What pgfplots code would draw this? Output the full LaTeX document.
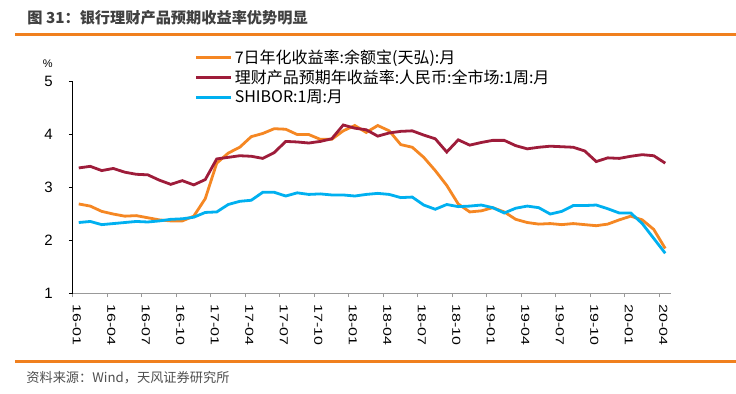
\documentclass[border=0pt]{standalone}
\usepackage{fontspec}
\setmainfont{Liberation Sans}
\newfontfamily\cjk{Noto Sans CJK SC}
\usepackage{pgfplots}
\usepackage{pgfplotstable}
\pgfplotsset{compat=1.18}
\definecolor{cOrange}{RGB}{245,135,35}
\definecolor{cRed}{RGB}{158,28,58}
\definecolor{cBlue}{RGB}{0,176,240}
\definecolor{cRule}{RGB}{240,128,30}
\definecolor{cTitle}{RGB}{64,64,64}
\definecolor{cFoot}{RGB}{80,80,80}

\pgfplotstableread{
x o r b
0.5 2.68 3.36 2.33
1.5 2.64 3.39 2.35
2.5 2.54 3.31 2.29
3.5 2.49 3.35 2.31
4.5 2.45 3.28 2.33
5.5 2.46 3.24 2.35
6.5 2.42 3.23 2.34
7.5 2.38 3.13 2.36
8.5 2.36 3.05 2.39
9.5 2.36 3.12 2.40
10.5 2.45 3.04 2.43
11.5 2.78 3.14 2.52
12.5 3.45 3.53 2.53
13.5 3.64 3.56 2.67
14.5 3.75 3.59 2.73
15.5 3.95 3.58 2.75
16.5 4.01 3.54 2.90
17.5 4.10 3.65 2.90
18.5 4.09 3.86 2.83
19.5 3.99 3.85 2.89
20.5 3.99 3.83 2.86
21.5 3.90 3.86 2.87
22.5 3.90 3.91 2.85
23.5 4.06 4.17 2.85
24.5 4.16 4.11 2.83
25.5 4.03 4.08 2.86
26.5 4.16 3.96 2.88
27.5 4.06 4.02 2.86
28.5 3.80 4.05 2.80
29.5 3.75 4.06 2.81
30.5 3.56 3.98 2.66
31.5 3.31 3.91 2.58
32.5 3.03 3.66 2.67
33.5 2.68 3.89 2.63
34.5 2.53 3.79 2.64
35.5 2.55 3.84 2.66
36.5 2.61 3.88 2.61
37.5 2.53 3.88 2.51
38.5 2.39 3.78 2.60
39.5 2.33 3.72 2.64
40.5 2.30 3.75 2.61
41.5 2.31 3.77 2.49
42.5 2.29 3.76 2.54
43.5 2.31 3.75 2.65
44.5 2.29 3.68 2.65
45.5 2.27 3.48 2.66
46.5 2.30 3.55 2.59
47.5 2.38 3.54 2.51
48.5 2.45 3.58 2.51
49.5 2.38 3.61 2.31
50.5 2.20 3.59 2.03
51.5 1.84 3.45 1.75
}\datatable

\begin{document}
\begin{tikzpicture}
\useasboundingbox (0,0) rectangle (368pt,-196.5pt);
\fill[white] (0,0) rectangle (368pt,-196.5pt);
\node[anchor=west, text=cTitle, font=\cjk\bfseries\fontsize{7.6pt}{9pt}\selectfont, inner sep=0pt] at (13.5pt,-9pt) {图 31：银行理财产品预期收益率优势明显};
\draw[cRule, line width=1.5pt] (7.5pt,-17pt) -- (368pt,-17pt);
\draw[cRule, line width=1.5pt] (7.5pt,-180.5pt) -- (368pt,-180.5pt);
\node[anchor=west, text=cFoot, font=\cjk\fontsize{6.6pt}{8pt}\selectfont, inner sep=0pt] at (13pt,-188.7pt) {资料来源：Wind，天风证券研究所};
\node[font=\fontsize{5.5pt}{6.5pt}\selectfont, inner sep=0pt] at (23.85pt,-31.75pt) {\%};
\begin{axis}[
  at={(36.5pt,-146.5pt)}, anchor=south west,
  scale only axis, width=299pt, height=106pt,
  xmin=0, xmax=52, ymin=1, ymax=5,
  ytick={1,2,3,4,5},
  xtick={0,3,...,51},
  xticklabels={16-01,16-04,16-07,16-10,17-01,17-04,17-07,17-10,18-01,18-04,18-07,18-10,19-01,19-04,19-07,19-10,20-01,20-04},
  axis x line=bottom, axis y line=left,
  x axis line style={-, draw=gray!80, line width=0.5pt},
  y axis line style={-, draw=black, line width=0.5pt},
  tick align=outside, major tick length=2pt,
  xtick style={draw=gray!80, line width=0.5pt},
  ytick style={draw=black, line width=0.5pt},
  /pgf/number format/assume math mode=true,
  xticklabel style={font=\fontsize{8pt}{9pt}\selectfont, yshift=-3.5pt, rotate=-90, yscale=0.72, anchor=base west, inner sep=0pt},
  yticklabel style={font=\fontsize{7.5pt}{9pt}\selectfont, anchor=east, inner sep=0pt, xshift=-8pt},
  legend style={at={(0.204,1.157)}, anchor=north west, draw=none, fill=none,
    inner sep=0pt, outer sep=0pt,
    font=\cjk\fontsize{8pt}{9.5pt}\selectfont, row sep=0pt, column sep=1pt,
    nodes={inner sep=0pt, outer sep=0pt, minimum height=10pt, anchor=west}},
  legend cell align=left,
  legend image code/.code={\draw[#1] (0pt,0pt) -- (17.5pt,0pt);},
  clip=false,
]
\addplot[cOrange, line width=1.4pt] table[x=x, y=o] {\datatable};
\addlegendentry{7日年化收益率:余额宝(天弘):月}
\addplot[cRed, line width=1.4pt] table[x=x, y=r] {\datatable};
\addlegendentry{理财产品预期年收益率:人民币:全市场:1周:月}
\addplot[cBlue, line width=1.4pt] table[x=x, y=b] {\datatable};
\addlegendentry{SHIBOR:1周:月}
\end{axis}
\end{tikzpicture}
\end{document}
